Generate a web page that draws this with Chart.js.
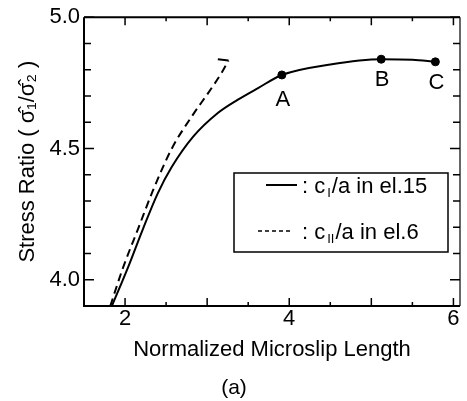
<!DOCTYPE html>
<html>
<head>
<meta charset="utf-8">
<script src="https://cdn.jsdelivr.net/npm/chart.js@4/dist/chart.umd.min.js"></script>
<style>
  html, body { margin: 0; padding: 0; background: #fff; }
  #wrap { width: 467px; height: 401px; }
</style>
</head>
<body>
<div id="wrap"><canvas id="chart" width="467" height="401"></canvas></div>
<script>
// c_I/a in el.15 (solid)
const solidX = [1.84, 2.04, 2.22, 2.40, 2.57, 2.83, 3.13, 3.37, 3.62, 3.91, 4.5, 5.12, 5.5, 5.78]
const solidY = [3.90, 4.05, 4.195, 4.33, 4.43, 4.545, 4.635, 4.685, 4.73, 4.78, 4.82, 4.84, 4.838, 4.83]

// c_II/a in el.6 (dashed), with the small hook at its upper end
const dashedX = [1.82, 1.98, 2.16, 2.34, 2.57, 2.83, 3.01, 3.18, 3.26]
const dashedY = [3.90, 4.05, 4.195, 4.34, 4.50, 4.63, 4.71, 4.79, 4.835]
const hookX = [3.26, 3.13]
const hookY = [4.835, 4.84]

// marked points
const pointNames = ['A', 'B', 'C']
const pointX = [3.91, 5.12, 5.78]
const pointY = [4.78, 4.84, 4.83]

// tick labels
const xLabelled = [2, 4, 6]
const yLabelled = [4.0, 4.5, 5.0]

const legendItems = [
  { pre: ': c', sub: 'I', post: '/a in el.15' },
  { pre: ': c', sub: 'II', post: '/a in el.6' }
]

const zip = (xs, ys) => xs.map((x, i) => ({ x, y: ys[i] }))
const near = (a, b) => Math.abs(a - b) < 1e-6
const onStep = (v, s) => near(v / s, Math.round(v / s))

const FONT = 'Liberation Sans, Arial, Helvetica, sans-serif'

const frameTicks = {
  id: 'frameTicks',
  afterDatasetsDraw(chart) {
    const { ctx, chartArea: a, scales: { x, y } } = chart
    ctx.save()
    ctx.strokeStyle = '#000'
    ctx.lineWidth = 2
    ctx.beginPath()
    ctx.moveTo(a.left, a.top)
    ctx.lineTo(a.right, a.top)
    ctx.moveTo(a.left, a.top)
    ctx.lineTo(a.left, a.bottom)
    ctx.lineTo(a.right, a.bottom)
    ctx.stroke()
    ctx.lineWidth = 1.2
    ctx.beginPath()
    ctx.moveTo(a.right, a.top)
    ctx.lineTo(a.right, a.bottom)
    ctx.stroke()

    ctx.lineWidth = 1.5
    ctx.beginPath()
    x.ticks.forEach(t => {
      const v = t.value
      if (v <= x.min || v >= x.max) return
      const px = x.getPixelForValue(v)
      const len = Number.isInteger(v) ? 8 : 4
      ctx.moveTo(px, a.bottom)
      ctx.lineTo(px, a.bottom - len)
      ctx.moveTo(px, a.top)
      ctx.lineTo(px, a.top + len)
    })
    y.ticks.forEach(t => {
      const v = t.value
      if (!onStep(v, 0.1) || v <= y.min + 1e-6) return
      const py = y.getPixelForValue(v)
      const len = onStep(v, 0.5) ? 10 : 7
      ctx.moveTo(a.left, py)
      ctx.lineTo(a.left + len, py)
      ctx.moveTo(a.right, py)
      ctx.lineTo(a.right - len, py)
    })
    ctx.stroke()
    ctx.restore()
  }
}

const pointLabels = {
  id: 'pointLabels',
  afterDatasetsDraw(chart) {
    const { ctx } = chart
    const meta = chart.getDatasetMeta(3)
    ctx.save()
    ctx.fillStyle = '#000'
    ctx.font = '22px ' + FONT
    ctx.textAlign = 'center'
    ctx.textBaseline = 'middle'
    meta.data.forEach((el, i) => {
      ctx.fillText(pointNames[i], el.x + 1, el.y + (i === 0 ? 25 : 21))
    })
    ctx.restore()
  }
}

const boxLegend = {
  id: 'boxLegend',
  afterDraw(chart) {
    const { ctx } = chart
    const left = 234, top = 173, right = 448, bottom = 252
    ctx.save()
    ctx.fillStyle = '#fff'
    ctx.fillRect(left, top, right - left, bottom - top)
    ctx.strokeStyle = '#000'
    ctx.lineWidth = 1.5
    ctx.strokeRect(left, top, right - left, bottom - top)

    const rows = [187, 233]
    legendItems.forEach((item, i) => {
      const yy = rows[i]
      ctx.beginPath()
      ctx.lineWidth = i === 0 ? 2 : 1.5
      ctx.setLineDash(i === 0 ? [] : [4, 3])
      ctx.moveTo(i === 0 ? 266 : 258, yy - 2)
      ctx.lineTo(i === 0 ? 297 : 292, yy - 2)
      ctx.stroke()
      ctx.setLineDash([])

      ctx.fillStyle = '#000'
      ctx.textBaseline = 'middle'
      ctx.textAlign = 'left'
      let tx = 302
      ctx.font = '22px ' + FONT
      ctx.fillText(item.pre, tx, yy)
      tx += ctx.measureText(item.pre).width + 2
      ctx.font = '13px ' + FONT
      ctx.fillText(item.sub, tx, yy + 6)
      tx += ctx.measureText(item.sub).width + 1
      ctx.font = '22px ' + FONT
      ctx.fillText(item.post, tx, yy)
    })
    ctx.restore()
  }
}

new Chart(document.getElementById('chart'), {
  type: 'scatter',
  data: {
    datasets: [
      {
        data: zip(solidX, solidY),
        showLine: true,
        borderColor: '#000',
        borderWidth: 2,
        pointRadius: 0,
        cubicInterpolationMode: 'monotone'
      },
      {
        data: zip(dashedX, dashedY),
        showLine: true,
        borderColor: '#000',
        borderWidth: 2,
        borderDash: [8, 5],
        pointRadius: 0,
        cubicInterpolationMode: 'monotone'
      },
      {
        data: zip(hookX, hookY),
        showLine: true,
        borderColor: '#000',
        borderWidth: 2,
        pointRadius: 0
      },
      {
        data: zip(pointX, pointY),
        showLine: false,
        backgroundColor: '#000',
        borderColor: '#000',
        pointRadius: 4
      }
    ]
  },
  options: {
    responsive: false,
    animation: false,
    layout: { padding: { left: 8, right: 7, top: 14, bottom: 0 } },
    scales: {
      x: {
        type: 'linear',
        min: 1.5,
        max: 6.08,
        grid: { display: false, drawTicks: false },
        border: { display: false },
        afterBuildTicks: s => {
          const ticks = []
          for (let v = Math.ceil(s.min * 2) / 2; v <= s.max + 1e-9; v += 0.5) ticks.push({ value: v })
          s.ticks = ticks
        },
        ticks: {
          autoSkip: false,
          maxRotation: 0,
          padding: 0,
          color: '#000',
          font: { family: FONT, size: 22 },
          callback: v => xLabelled.some(l => near(l, v)) ? String(v) : ''
        },
        title: {
          display: true,
          text: 'Normalized Microslip Length',
          color: '#000',
          font: { family: FONT, size: 22 },
          padding: { top: 4, bottom: 4 }
        }
      },
      y: {
        type: 'linear',
        min: 3.9,
        max: 5.0,
        grid: { display: false, drawTicks: false },
        border: { display: false },
        afterFit: s => { s.width = 76 },
        ticks: {
          stepSize: 0.1,
          autoSkip: false,
          padding: 4,
          color: '#000',
          font: { family: FONT, size: 22 },
          callback: v => yLabelled.some(l => near(l, v)) ? v.toFixed(1) : ''
        },
        title: {
          display: true,
          text: 'Stress Ratio ( σ̂₁/σ̂₂ )',
          color: '#000',
          font: { family: FONT, size: 22 },
          padding: { top: 7, bottom: 0 }
        }
      }
    },
    plugins: {
      legend: { display: false },
      tooltip: { enabled: false },
      title: {
        display: true,
        position: 'bottom',
        text: '(a)',
        color: '#000',
        font: { family: FONT, size: 21, weight: 'normal' },
        padding: { top: 9, bottom: 0 }
      }
    }
  },
  plugins: [frameTicks, pointLabels, boxLegend]
})
</script>
</body>
</html>
